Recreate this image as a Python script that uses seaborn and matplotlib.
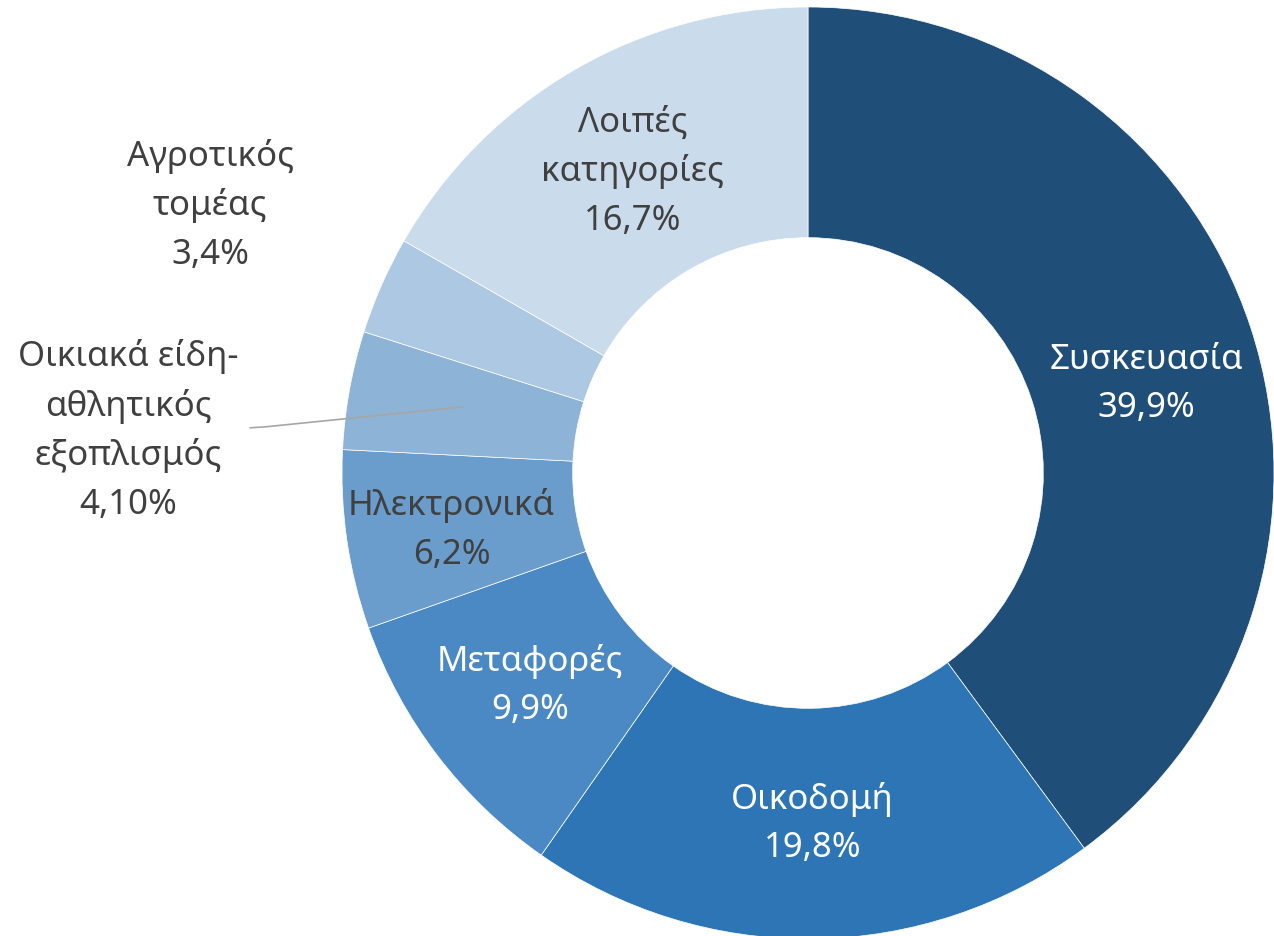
import numpy as np
import matplotlib
matplotlib.use('Agg')
import matplotlib.pyplot as plt
import seaborn as sns

categories = ['Συσκευασία', 'Οικοδομή', 'Μεταφορές', 'Ηλεκτρονικά',
              'Οικιακά είδη-\nαθλητικός\nεξοπλισμός', 'Αγροτικός\nτομέας',
              'Λοιπές\nκατηγορίες']
values = [39.9, 19.8, 9.9, 6.2, 4.1, 3.4, 16.7]
value_labels = ['39,9%', '19,8%', '9,9%', '6,2%', '4,10%', '3,4%', '16,7%']
colors = ['#1F4E79', '#2E75B6', '#4A89C3', '#6A9DCC', '#8DB3D7', '#ADC8E3', '#CADCEC']
text_colors = ['white', 'white', 'white', '#404040', '#404040', '#404040', '#404040']

sns.set_style('white')
plt.rcParams['font.family'] = ['Noto Sans', 'DejaVu Sans']

fig = plt.figure(figsize=(12.74, 9.37), dpi=100)
ax = fig.add_axes([0, 0, 1, 1])

wedges, _ = ax.pie(values, colors=colors, startangle=90, counterclock=False,
                   radius=1.0, wedgeprops=dict(width=0.495, edgecolor='white', linewidth=0.5))

# hand placed labels (the two small slices sit outside the ring)
label_pos = {0: (0.727, 0.193), 3: (-0.765, -0.120),
             4: (-1.459, 0.094), 5: (-1.283, 0.577)}

for i, w in enumerate(wedges):
    txt = categories[i] + '\n' + value_labels[i]
    if i in label_pos:
        x, y = label_pos[i]
    else:
        ang = np.deg2rad((w.theta1 + w.theta2) / 2)
        x, y = 0.75 * np.cos(ang), 0.75 * np.sin(ang)
    ax.text(x, y, txt, ha='center', va='center', fontsize=25,
            color=text_colors[i], linespacing=1.55)

# leader line for Οικιακά
ax.plot([-0.740, -1.165, -1.197], [0.142, 0.099, 0.097], color='#A6A6A6', lw=1.2)

ax.set_xlim(-808 / 466, (1274 - 808) / 466)
ax.set_ylim((474 - 937) / 466, 474 / 466)
ax.set_aspect('auto')
ax.axis('off')

fig.savefig('out.png', dpi=100, facecolor='white')
